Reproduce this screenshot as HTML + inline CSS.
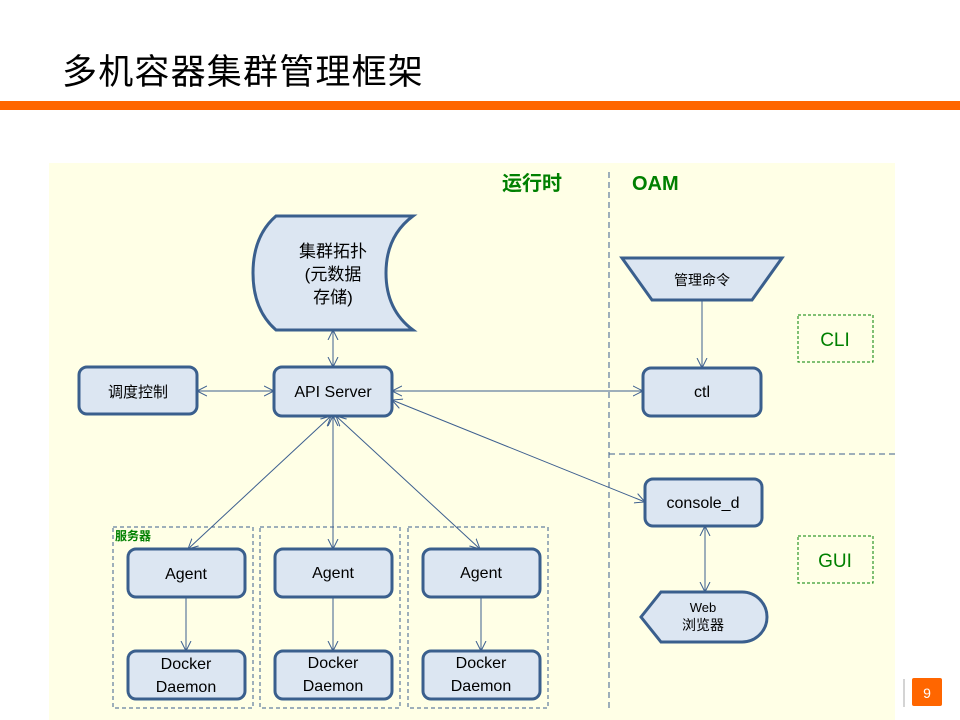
<!DOCTYPE html>
<html><head><meta charset="utf-8"><style>
body{margin:0;background:#fff;}
svg{display:block;font-family:"Liberation Sans","Noto Sans CJK SC",sans-serif;}
</style></head><body>
<svg width="960" height="720" viewBox="0 0 960 720" xmlns="http://www.w3.org/2000/svg">
<defs>
<marker id="a" markerWidth="12" markerHeight="12" refX="10" refY="6" orient="auto-start-reverse" markerUnits="userSpaceOnUse">
<path d="M0,1 L10,6 L0,11" fill="none" stroke="#3d5f8f" stroke-width="1"/>
</marker>
</defs>
<text x="62" y="84" font-size="35" letter-spacing="1.2" fill="#000">多机容器集群管理框架</text>
<rect x="0" y="101" width="960" height="9" fill="#ff6600"/>
<rect x="49" y="163" width="846" height="557" fill="#ffffe6"/>
<line x1="609" y1="172" x2="609" y2="708" stroke="#3d5f8f" stroke-dasharray="6,4"/>
<line x1="609" y1="454" x2="895" y2="454" stroke="#3d5f8f" stroke-dasharray="6,4"/>
<text x="502" y="190" font-size="20" font-weight="bold" fill="#008000">运行时</text>
<text x="632" y="190" font-size="20" font-weight="bold" fill="#008000">OAM</text>
<rect x="798" y="315" width="75" height="47" fill="none" stroke="#008000" stroke-dasharray="3,2"/>
<text x="835" y="346" font-size="19" fill="#008000" text-anchor="middle">CLI</text>
<rect x="798" y="536" width="75" height="47" fill="none" stroke="#008000" stroke-dasharray="3,2"/>
<text x="835" y="567" font-size="19" fill="#008000" text-anchor="middle">GUI</text>
<g fill="none" stroke="#3d5f8f" stroke-dasharray="4,3">
<rect x="113" y="527" width="140" height="181"/>
<rect x="260" y="527" width="140" height="181"/>
<rect x="408" y="527" width="140" height="181"/>
</g>
<text x="115" y="540" font-size="12" font-weight="bold" fill="#008000">服务器</text>
<g stroke="#3d5f8f" stroke-width="1" fill="none" marker-end="url(#a)">
<line x1="333" y1="330" x2="333" y2="367" marker-start="url(#a)"/>
<line x1="197" y1="391" x2="274" y2="391" marker-start="url(#a)"/>
<line x1="392" y1="391" x2="643" y2="391" marker-start="url(#a)"/>
<line x1="702" y1="300" x2="702" y2="368"/>
<line x1="392" y1="400" x2="645" y2="502" marker-start="url(#a)"/>
<line x1="331" y1="416" x2="188" y2="549" marker-start="url(#a)"/>
<line x1="333" y1="416" x2="333" y2="549" marker-start="url(#a)"/>
<line x1="336" y1="416" x2="480" y2="549" marker-start="url(#a)"/>
<line x1="186" y1="597" x2="186" y2="651"/>
<line x1="333" y1="597" x2="333" y2="651"/>
<line x1="481" y1="597" x2="481" y2="651"/>
<line x1="705" y1="526" x2="705" y2="592" marker-start="url(#a)"/>
</g>
<g fill="#dce6f2" stroke="#3a5f8d" stroke-width="3">
<path d="M276,216 L413,216 Q386,236 386,273 Q386,310 413,330 L276,330 Q253,310 253,273 Q253,236 276,216 Z"/>
<rect x="79" y="367" width="118" height="47" rx="8"/>
<rect x="274" y="367" width="118" height="49" rx="8"/>
<rect x="643" y="368" width="118" height="48" rx="8"/>
<rect x="645" y="479" width="117" height="47" rx="8"/>
<path d="M622,258 L782,258 L752,300 L652,300 Z"/>
<path d="M661,592 L742,592 A25,25 0 0 1 742,642 L661,642 L641,617 Z"/>
<rect x="128" y="549" width="117" height="48" rx="8"/>
<rect x="275" y="549" width="117" height="48" rx="8"/>
<rect x="423" y="549" width="117" height="48" rx="8"/>
<rect x="128" y="651" width="117" height="48" rx="8"/>
<rect x="275" y="651" width="117" height="48" rx="8"/>
<rect x="423" y="651" width="117" height="48" rx="8"/>
</g>
<g font-size="16" fill="#000" text-anchor="middle">
<text x="333" y="257" font-size="17">集群拓扑</text>
<text x="333" y="280" font-size="17">(元数据</text>
<text x="333" y="303" font-size="17">存储)</text>
<text x="138" y="397" font-size="15">调度控制</text>
<text x="333" y="397">API Server</text>
<text x="702" y="397">ctl</text>
<text x="703" y="508">console_d</text>
<text x="702" y="285" font-size="14">管理命令</text>
<text x="703" y="612" font-size="13">Web</text>
<text x="703" y="630" font-size="14">浏览器</text>
<text x="186" y="579">Agent</text>
<text x="333" y="578">Agent</text>
<text x="481" y="578">Agent</text>
<text x="186" y="669">Docker</text><text x="186" y="692">Daemon</text>
<text x="333" y="668">Docker</text><text x="333" y="691">Daemon</text>
<text x="481" y="668">Docker</text><text x="481" y="691">Daemon</text>
</g>
<line x1="904" y1="679" x2="904" y2="707" stroke="#aaa"/>
<rect x="912" y="678" width="30" height="28" rx="2" fill="#ff6600"/>
<text x="927" y="698" font-size="14" fill="#fff" text-anchor="middle">9</text>
</svg>
</body></html>
